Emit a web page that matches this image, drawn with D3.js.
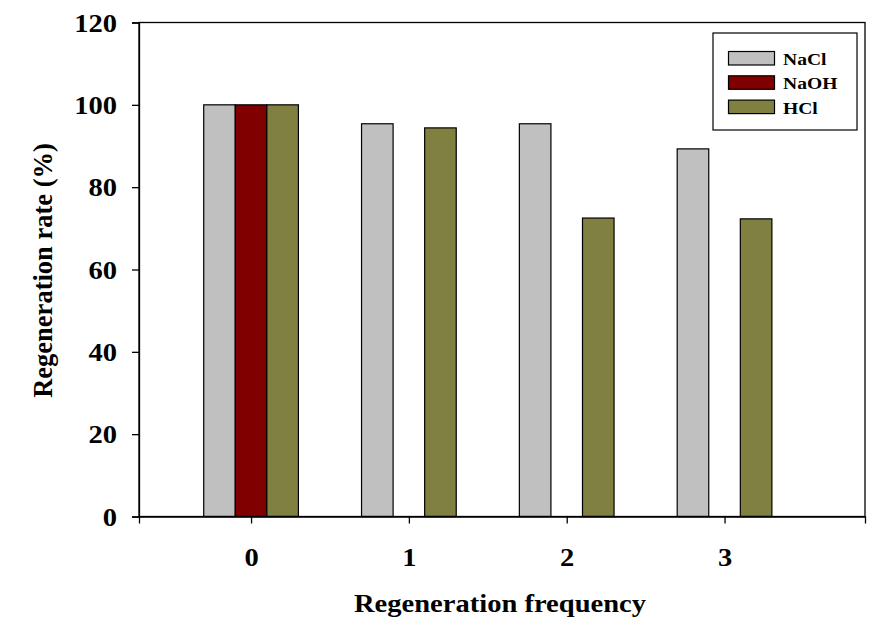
<!DOCTYPE html>
<html>
<head>
<meta charset="utf-8">
<title>Regeneration rate</title>
<style>
  body { margin: 0; background: #fff; }
  text { font-family: "Liberation Serif", "Times New Roman", serif; font-weight: bold; fill: #000; }
</style>
</head>
<body>
<div id="chart"></div>
<script src="https://cdn.jsdelivr.net/npm/d3@7"></script>
<script>
// data
const frequencies = [0, 1, 2, 3];
const seriesNames = ["NaCl", "NaOH", "HCl"];
const seriesColors = ["#c0c0c0", "#800000", "#808040"];
const naclValues = [100, 95.4, 95.4, 89.3];
const naohValues = [100, null, null, null];
const hclValues = [100, 94.4, 72.5, 72.3];
const yTicks = [0, 20, 40, 60, 80, 100, 120];

const W = 895, H = 625;
const plot = { left: 139, right: 865, top: 22.5, bottom: 516.5 };
const stretch = 1.12; // text in the picture is a bit wider than the font

const svg = d3.select("#chart").append("svg")
  .attr("width", W).attr("height", H);

// scales
const x = d3.scaleLinear().domain([-0.71, 3.89]).range([plot.left, plot.right]);
const y = d3.scaleLinear().domain([0, 120]).range([plot.bottom, plot.top]);
const barW = 0.2; // in x units

const series = [naclValues, naohValues, hclValues];

// bars
series.forEach(function(vals, s) {
  const off = (s - 1) * barW;
  svg.append("g").selectAll("rect")
    .data(frequencies.map(function(f, i) { return { f: f, v: vals[i] }; })
      .filter(function(d) { return d.v != null; }))
    .join("rect")
    .attr("x", function(d) { return x(d.f + off - barW / 2); })
    .attr("width", function(d) { return x(d.f + off + barW / 2) - x(d.f + off - barW / 2); })
    .attr("y", function(d) { return y(d.v); })
    .attr("height", function(d) { return y(0) - y(d.v); })
    .attr("fill", seriesColors[s])
    .attr("stroke", "#000")
    .attr("stroke-width", 1.2);
});

// frame
svg.append("rect")
  .attr("x", plot.left).attr("y", plot.top)
  .attr("width", plot.right - plot.left).attr("height", plot.bottom - plot.top)
  .attr("fill", "none").attr("stroke", "#000").attr("stroke-width", 1.3);

// axes
const yAxis = svg.append("g")
  .attr("transform", `translate(${plot.left},0)`)
  .call(d3.axisLeft(y).tickValues(yTicks).tickSize(7));
const xAxis = svg.append("g")
  .attr("transform", `translate(0,${plot.bottom})`)
  .call(d3.axisBottom(x).tickValues(frequencies).tickSize(7).tickPadding(24).tickFormat(d3.format("d")));
[xAxis, yAxis].forEach(function(a) {
  a.select(".domain").attr("stroke", "#000").attr("stroke-width", 1.3);
  a.selectAll(".tick line").attr("stroke", "#000").attr("stroke-width", 1.3);
  a.selectAll(".tick text")
    .style("font-family", '"Liberation Serif", "Times New Roman", serif')
    .style("font-weight", "bold")
    .style("font-size", "25.5px")
    .attr("fill", "#000")
    .attr("transform", `scale(${stretch},1)`);
});
yAxis.selectAll(".tick text").attr("x", -22 / stretch).attr("dy", "0.34em");

// axis titles
svg.append("g")
  .attr("transform", `translate(${(plot.left + plot.right) / 2 - 2},612) scale(${stretch},1)`)
  .append("text")
  .attr("text-anchor", "middle")
  .style("font-size", "25.5px")
  .text("Regeneration frequency");
svg.append("text")
  .attr("transform", `translate(52,${(plot.top + plot.bottom) / 2 + 1}) rotate(-90)`)
  .attr("text-anchor", "middle")
  .style("font-size", "26.5px")
  .text("Regeneration rate (%)");

// legend
const legend = svg.append("g").attr("transform", "translate(713,33)");
legend.append("rect")
  .attr("width", 144).attr("height", 97)
  .attr("fill", "#fff").attr("stroke", "#000").attr("stroke-width", 1.2);
seriesNames.forEach(function(name, i) {
  legend.append("rect")
    .attr("x", 15.5).attr("y", 18.5 + i * 24.3)
    .attr("width", 46).attr("height", 13.5)
    .attr("fill", seriesColors[i]).attr("stroke", "#000").attr("stroke-width", 1.2);
  legend.append("g")
    .attr("transform", `translate(70,${32 + i * 24.3}) scale(${stretch},1)`)
    .append("text")
    .style("font-size", "17.5px")
    .text(name);
});
</script>
</body>
</html>
